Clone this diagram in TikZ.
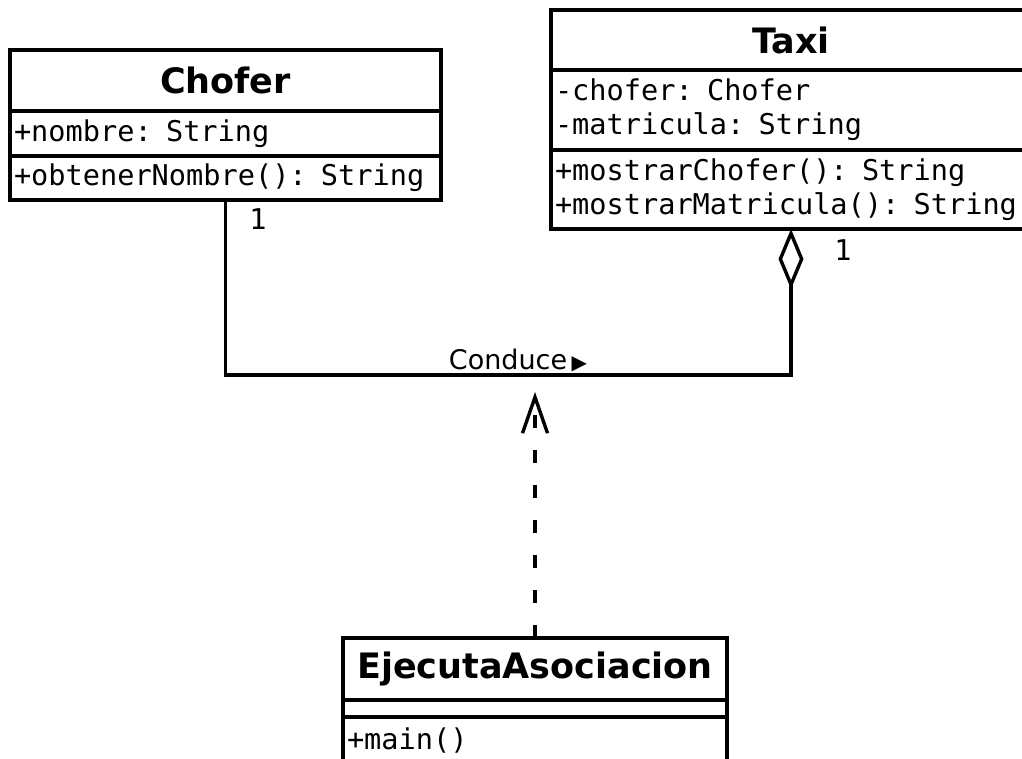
\documentclass[tikz,border=0pt]{standalone}
\usepackage{fontspec}
\setmainfont{DejaVu Sans}
\setmonofont{DejaVu Sans Mono}
\usetikzlibrary{arrows.meta}

\newcommand\umltitle{\bfseries\fontsize{17.5pt}{21pt}\selectfont}
\newcommand\umlcode{\ttfamily\fontsize{14.3pt}{17pt}\selectfont}

\begin{document}
\begin{tikzpicture}[x=0.5pt, y=-0.5pt, line width=1.7pt,
	classhead/.style={draw, anchor=north west, outer sep=0pt, inner sep=0pt, minimum width=#1, font=\umltitle},
	classpart/.style={draw, anchor=north west, outer sep=0pt, inner xsep=2pt, inner ysep=0pt, align=left, font=\umlcode}]
	\useasboundingbox (0,0) rectangle (1022,759);
	\clip (0,0) rectangle (1022,759);
	% Chofer
	\node[classhead=215.5pt, minimum height=30.5pt] (chofer) at (10,50) {Chofer};
	\node[classpart, text width=211.5pt, minimum height=22.5pt] (chofer-attr) at (chofer.south west) {+nombre: String};
	\node[classpart, text width=211.5pt, minimum height=22pt] (chofer-ops) at (chofer-attr.south west) {+obtenerNombre(): String};
	% Taxi
	\node[classhead=240pt, minimum height=30pt] (taxi) at (551,10) {Taxi};
	\node[classpart, text width=236pt, minimum height=40pt] (taxi-attr) at (taxi.south west) {-chofer: Chofer\\-matricula: String};
	\node[classpart, text width=236pt, minimum height=39.5pt] (taxi-ops) at (taxi-attr.south west) {+mostrarChofer(): String\\+mostrarMatricula(): String};
	% EjecutaAsociacion
	\node[classhead=192pt, minimum height=31pt] (ejecuta) at (343,638) {EjecutaAsociacion};
	\node[classpart, text width=188pt, minimum height=8.5pt] (ejecuta-attr) at (ejecuta.south west) {};
	\node[classpart, text width=188pt, minimum height=24pt] (ejecuta-ops) at (ejecuta-attr.south west) {+main()};
	% association Chofer -- Taxi
	\coordinate (bend) at (chofer-ops.south |- 0,375);
	\draw[-{Diamond[open, length=30pt, width=12.5pt]}] (chofer-ops.south) -- (bend) -| (taxi-ops.south);
	\node[font=\umlcode] (chofer-mult) at (258,219) {1};
	\node[font=\umlcode] (taxi-mult) at (843,250) {1};
	\node[font=\fontsize{13.5pt}{16pt}\selectfont] (conduce) at (518,360) {Conduce\,{\fontsize{10pt}{10pt}\selectfont ▶}};
	% dependency on the association
	\coordinate (dep-tip) at (535,392);
	\draw[dash pattern=on 6.5pt off 11pt, -{Straight Barb[length=18pt, width=12.5pt]}] (ejecuta.north) -- (dep-tip);
\end{tikzpicture}
\end{document}
